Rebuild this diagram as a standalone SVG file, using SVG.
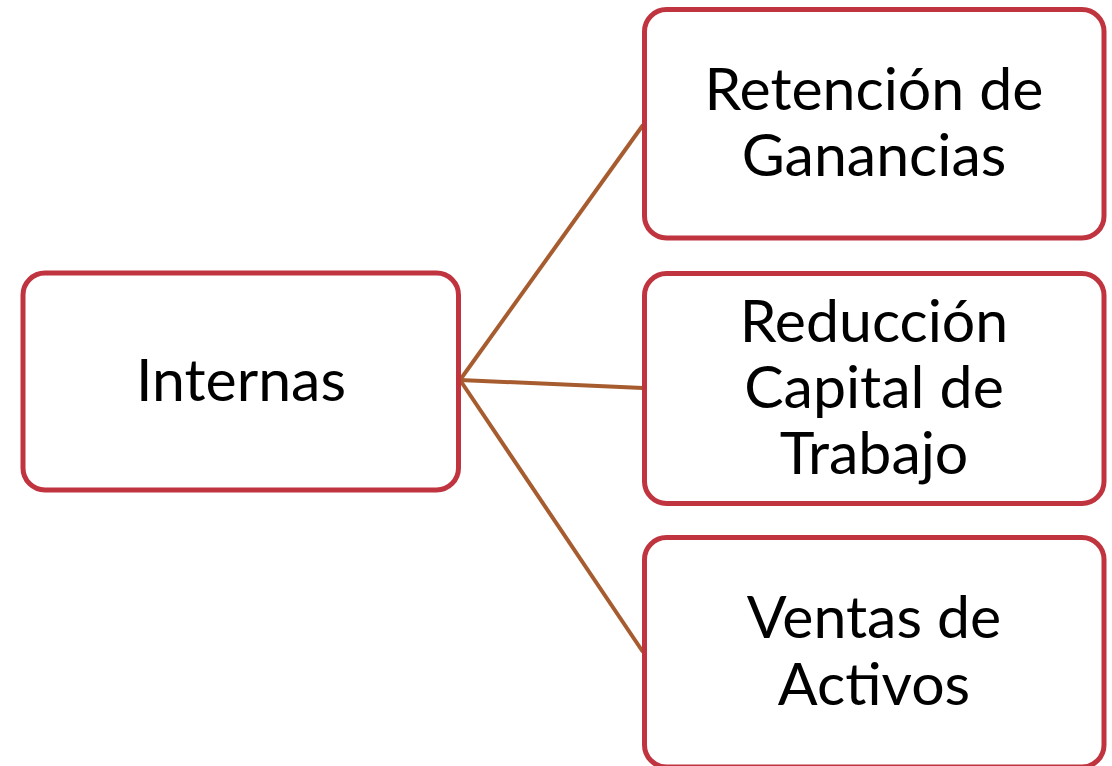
<svg xmlns="http://www.w3.org/2000/svg" width="1112" height="766" viewBox="0 0 1112 766">
<style>
.box{fill:#fff;stroke:#C0343F;stroke-width:5}
.lbl{font-family:"Lato","Open Sans",sans-serif;font-size:59px;fill:#000;text-anchor:middle}
.con{stroke:#A65C2E;stroke-width:4;fill:none}
</style>
<rect width="1112" height="766" fill="#fff"/>
<g id="connectors">
<line class="con" x1="460" y1="380" x2="643" y2="125"/>
<line class="con" x1="460" y1="380" x2="643" y2="388"/>
<line class="con" x1="460" y1="380" x2="643" y2="652"/>
</g>
<g id="internas">
<rect class="box" x="23" y="273" width="435.5" height="217" rx="22"/>
<text class="lbl" x="241" y="401">Internas</text>
</g>
<g id="retencion">
<rect class="box" x="644.5" y="9.5" width="459.5" height="228.5" rx="22"/>
<text class="lbl" x="874" y="110">Retención de</text>
<text class="lbl" x="874" y="176">Ganancias</text>
</g>
<g id="reduccion">
<rect class="box" x="644.5" y="273.5" width="459.5" height="230" rx="22"/>
<text class="lbl" x="874" y="342">Reducción</text>
<text class="lbl" x="874" y="408">Capital de</text>
<text class="lbl" x="874" y="474">Trabajo</text>
</g>
<g id="ventas">
<rect class="box" x="644.5" y="537.5" width="459.5" height="229.5" rx="22"/>
<text class="lbl" x="874" y="638">Ventas de</text>
<text class="lbl" x="874" y="705">Activos</text>
</g>
</svg>
